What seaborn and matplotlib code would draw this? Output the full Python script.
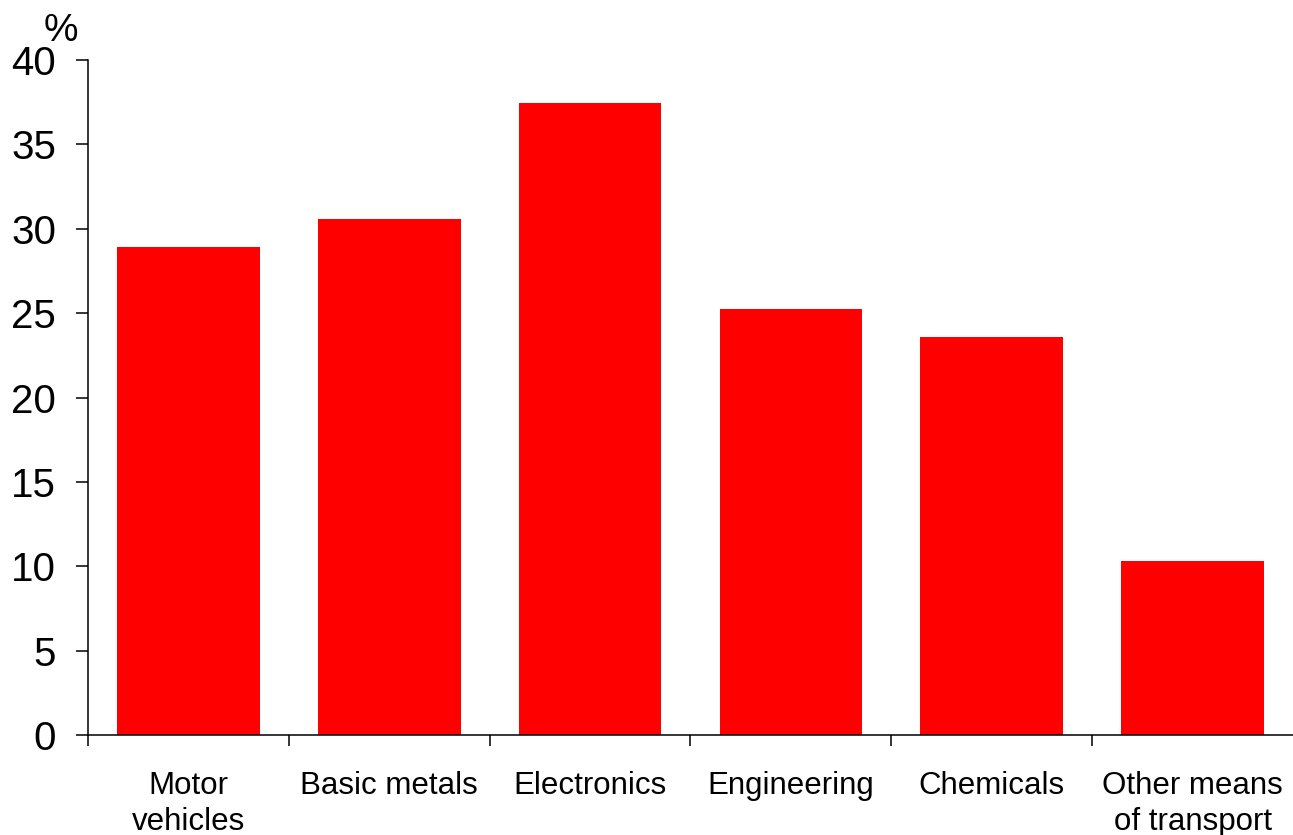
import matplotlib
matplotlib.use("Agg")
import matplotlib.pyplot as plt
import seaborn as sns
import pandas as pd

# Share of sector (%), by industry
sectors = ["Motor\nvehicles", "Basic metals", "Electronics", "Engineering",
           "Chemicals", "Other means\nof transport"]
shares = [28.9, 30.6, 37.45, 25.25, 23.6, 10.3]
y_ticks = [0, 5, 10, 15, 20, 25, 30, 35, 40]

sns.set_theme(style="white")
plt.rcParams["font.family"] = ["Liberation Sans", "DejaVu Sans"]
plt.rcParams["text.color"] = "black"
plt.rcParams["xtick.color"] = "black"
plt.rcParams["ytick.color"] = "black"

df = pd.DataFrame({"sector": sectors, "share": shares})

fig = plt.figure(figsize=(12.93, 8.35), dpi=100)
ax = fig.add_axes([88 / 1293, 1 - 735 / 835, 1 - 88 / 1293, (735 - 60) / 835])

sns.barplot(data=df, x="sector", y="share", color="#ff0000", saturation=1,
            width=0.71, linewidth=0, ax=ax)

ax.set_xlim(-0.5, 5.5)
ax.set_ylim(0, 40)
ax.set_yticks(y_ticks)
ax.set_yticklabels([str(t) for t in y_ticks], fontsize=29)
ax.set_xlabel("")
ax.set_ylabel("")

# Category labels centred between boundary tick marks
ax.tick_params(axis="x", which="major", length=0, pad=26, labelsize=22.5,
               labelcolor="black")
ax.set_xticks(range(len(sectors)), labels=sectors, linespacing=1.25)
ax.set_xticks([i - 0.5 for i in range(len(sectors))], minor=True)
ax.tick_params(axis="x", which="minor", direction="out", length=8,
               width=1.1, color="black", bottom=True)
ax.tick_params(axis="y", which="major", direction="out", length=9,
               width=1.1, color="black", left=True, pad=14, labelcolor="black")

for side in ["top", "right"]:
    ax.spines[side].set_visible(False)
for side in ["left", "bottom"]:
    ax.spines[side].set_color("black")
    ax.spines[side].set_linewidth(1.1)

ax.text(61 / 1293, 1 - 41 / 835, "%", transform=fig.transFigure,
        ha="center", va="baseline", fontsize=28, color="black")

fig.savefig("out.png", dpi=100)
